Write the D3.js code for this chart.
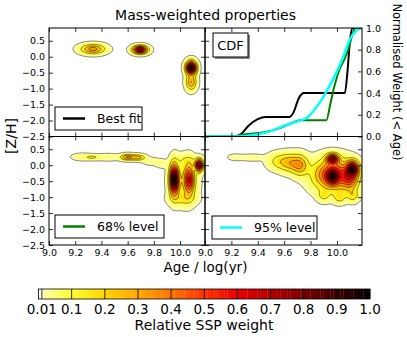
<!DOCTYPE html>
<html>
<head>
<meta charset="utf-8">
<script src="https://cdn.jsdelivr.net/npm/d3@7"></script>
<style>
  body { margin: 0; background: #fff; }
  svg text { font-family: "DejaVu Sans", sans-serif; fill: #000; }
</style>
</head>
<body>
<div id="chart"></div>
<script>
// tick values
const ageTicks = [9.0, 9.2, 9.4, 9.6, 9.8, 10.0]
const zTicks = [0.5, 0.0, -0.5, -1.0, -1.5, -2.0, -2.5]
const cdfTicks = [0.0, 0.2, 0.4, 0.6, 0.8, 1.0]
const levelTicks = [0.01, 0.1, 0.2, 0.3, 0.4, 0.5, 0.6, 0.7, 0.8, 0.9, 1.0]

// SSP weight components:
// log age, [Z/H], relative weight, spread in log age, spread in [Z/H]
const bestAge = [9.335, 9.695, 10.085, 10.085]
const bestZ   = [0.24, 0.22, -0.35, -0.8]
const bestW   = [0.35, 0.78, 1.0, 0.3]
const bestSA  = [0.057, 0.035, 0.025, 0.025]
const bestSZ  = [0.094, 0.078, 0.13, 0.15]

const lo68Age = [9.25, 9.33, 9.45, 9.60, 9.68, 9.78, 9.86, 9.955, 10.07, 10.145, 10.03, 10.02, 10.05]
const lo68Z   = [0.26, 0.25, 0.25, 0.25, 0.24, 0.12, 0.05, -0.45, -0.45, 0.0, -0.5, -1.05, 0.15]
const lo68W   = [0.05, 0.11, 0.05, 0.33, 0.25, 0.05, 0.05, 1.0, 0.55, 0.85, 0.15, 0.12, 0.08]
const lo68SA  = [0.05, 0.04, 0.06, 0.035, 0.035, 0.04, 0.03, 0.022, 0.025, 0.02, 0.06, 0.06, 0.05]
const lo68SZ  = [0.07, 0.05, 0.07, 0.06, 0.06, 0.07, 0.08, 0.30, 0.30, 0.12, 0.40, 0.12, 0.10]

const lo95Age = [9.23, 9.36, 9.55, 9.64, 9.72, 9.97, 9.967, 9.967, 10.12, 10.10, 9.90, 10.02, 10.12]
const lo95Z   = [0.25, 0.24, 0.12, 0.08, 0.0, -0.30, 0.20, -0.36, -0.10, -0.40, -0.95, -1.0, -0.95]
const lo95W   = [0.03, 0.04, 0.12, 0.25, 0.30, 0.60, 0.70, 0.45, 0.70, 0.40, 0.12, 0.15, 0.15]
const lo95SA  = [0.04, 0.06, 0.05, 0.05, 0.04, 0.09, 0.03, 0.03, 0.03, 0.04, 0.03, 0.03, 0.03]
const lo95SZ  = [0.07, 0.07, 0.16, 0.18, 0.20, 0.30, 0.10, 0.15, 0.15, 0.25, 0.12, 0.12, 0.12]

// cumulative mass fraction vs age
const bestCdfAge = [9.0, 9.22, 9.27, 9.33, 9.40, 9.46, 9.64, 9.67, 9.71, 9.75, 10.06, 10.08, 10.10, 10.12, 10.19]
const bestCdf    = [0, 0, 0.02, 0.10, 0.16, 0.18, 0.18, 0.22, 0.35, 0.40, 0.40, 0.60, 0.90, 1.0, 1.0]
const lo68CdfAge = [9.0, 9.2, 9.3, 9.45, 9.55, 9.65, 9.72, 9.92, 9.95, 9.98, 10.02, 10.06, 10.09, 10.12, 10.14, 10.19]
const lo68Cdf    = [0, 0, 0.02, 0.04, 0.07, 0.12, 0.15, 0.15, 0.30, 0.46, 0.62, 0.72, 0.82, 0.95, 1.0, 1.0]
const lo95CdfAge = [9.0, 9.25, 9.4, 9.5, 9.6, 9.7, 9.78, 9.85, 9.9, 9.95, 10.0, 10.05, 10.1, 10.15, 10.19]
const lo95Cdf    = [0, 0, 0.02, 0.05, 0.10, 0.14, 0.18, 0.28, 0.37, 0.48, 0.60, 0.74, 0.90, 0.98, 1.0]

const width = 407, height = 337
const box = {left: 49, mid: 205, right: 362, top: 28, split: 136.5, bottom: 245}

const svg = d3.select('#chart').append('svg')
    .attr('width', width)
    .attr('height', height)

const colour = d3.scaleLinear()
    .domain([0, 0.01, 0.1, 0.2, 0.3, 0.4, 0.5, 0.6, 0.7, 0.8, 0.9, 1.0])
    .range(['#ffffff', '#ffffb0', '#ffff30', '#ffd400', '#ffa800', '#ff7400', '#ff3400', '#e80000', '#b40000', '#780000', '#3c0000', '#000000'])

const fineLevels = d3.range(1, 100).map(i => i / 100)
const lineLevels = levelTicks.slice(0, -1)

// density grid
const gAge = [8.95, 10.25], gZ = [-2.6, 1.0]
const nx = 261, ny = 289
const da = (gAge[1] - gAge[0]) / (nx - 1)
const dz = (gZ[1] - gZ[0]) / (ny - 1)

function density(ages, zs, ws, sas, szs) {
	const values = new Array(nx * ny).fill(0)
	for (let j = 0; j < ny; j++) {
		const z = gZ[0] + j * dz
		for (let i = 0; i < nx; i++) {
			const a = gAge[0] + i * da
			let s = 0
			for (let k = 0; k < ages.length; k++) {
				const u = (a - ages[k]) / sas[k], v = (z - zs[k]) / szs[k]
				s += ws[k] * Math.exp(-0.5 * (u * u + v * v))
			}
			values[j * nx + i] = s
		}
	}
	const m = d3.max(values)
	return values.map(v => v / m)
}

let clipCount = 0
const panel = function(x0, x1, y0, y1) {
	const x = d3.scaleLinear().domain([9.0, 10.19]).range([x0, x1])
	const y = d3.scaleLinear().domain([-2.5, 0.9]).range([y1, y0])
	const id = 'clip' + (clipCount++)
	svg.append('clipPath').attr('id', id)
		.append('rect')
			.attr('x', x0).attr('y', y0)
			.attr('width', x1 - x0).attr('height', y1 - y0)
	const g = svg.append('g').attr('clip-path', `url(#${id})`)
	return {x, y, g, x0, x1, y0, y1}
}

const drawMap = function(p, ages, zs, ws, sas, szs) {
	const values = density(ages, zs, ws, sas, szs)
	const proj = d3.geoTransform({
		point: function(px, py) {
			this.stream.point(p.x(gAge[0] + (px - 0.5) * da), p.y(gZ[0] + (py - 0.5) * dz))
		}
	})
	const path = d3.geoPath(proj)
	p.g.append('g')
		.selectAll('path')
		.data(d3.contours().size([nx, ny]).thresholds(fineLevels)(values))
		.enter().append('path')
			.attr('d', path)
			.attr('fill', d => colour(d.value + 0.005))
	p.g.append('g')
		.selectAll('path')
		.data(d3.contours().size([nx, ny]).thresholds(lineLevels)(values))
		.enter().append('path')
			.attr('d', path)
			.attr('fill', 'none')
			.attr('stroke', '#000')
			.attr('stroke-width', 0.5)
}

const tickAxis = function(p, side, scale, values, labels) {
	const make = {left: d3.axisLeft, right: d3.axisRight, top: d3.axisTop, bottom: d3.axisBottom}[side]
	const pos = {left: `translate(${p.x0},0)`, right: `translate(${p.x1},0)`,
		top: `translate(0,${p.y0})`, bottom: `translate(0,${p.y1})`}[side]
	const axis = make(scale).tickValues(values).tickSizeInner(-4).tickSizeOuter(0).tickPadding(4)
		.tickFormat(labels ? d3.format('.1f') : '')
	const g = svg.append('g').attr('transform', pos).call(axis)
	g.select('.domain').remove()
	g.selectAll('line').attr('stroke', '#000').attr('stroke-width', 0.8)
	g.selectAll('text').attr('font-size', 9.5).attr('font-family', '"DejaVu Sans", sans-serif').attr('fill', '#000')
	return g
}

const frame = function(p) {
	svg.append('rect')
		.attr('x', p.x0).attr('y', p.y0)
		.attr('width', p.x1 - p.x0).attr('height', p.y1 - p.y0)
		.attr('fill', 'none').attr('stroke', '#000').attr('stroke-width', 1)
}

const legendBox = function(x, y, w, h, colourLine, label) {
	const g = svg.append('g')
	g.append('rect').attr('x', x).attr('y', y).attr('width', w).attr('height', h)
		.attr('fill', '#fff').attr('stroke', '#000').attr('stroke-width', 1)
	g.append('line').attr('x1', x + 8).attr('x2', x + 30).attr('y1', y + h / 2).attr('y2', y + h / 2)
		.attr('stroke', colourLine).attr('stroke-width', 2.5)
	g.append('text').attr('x', x + 42).attr('y', y + h / 2).attr('dy', '0.36em')
		.attr('font-size', 12.5).text(label)
}

// panels
const pBest = panel(box.left, box.mid, box.top, box.split)
const pCdf = panel(box.mid, box.right, box.top, box.split)
const p68 = panel(box.left, box.mid, box.split, box.bottom)
const p95 = panel(box.mid, box.right, box.split, box.bottom)

drawMap(pBest, bestAge, bestZ, bestW, bestSA, bestSZ)
drawMap(p68, lo68Age, lo68Z, lo68W, lo68SA, lo68SZ)
drawMap(p95, lo95Age, lo95Z, lo95W, lo95SA, lo95SZ)

// CDF panel
const cdfY = d3.scaleLinear().domain([0, 1]).range([pCdf.y1, pCdf.y0])
const cdfLine = d3.line().curve(d3.curveMonotoneX)
const cdfSeries = [
	{age: bestCdfAge, cdf: bestCdf, colour: '#000000', w: 2},
	{age: lo68CdfAge, cdf: lo68Cdf, colour: '#008000', w: 2},
	{age: lo95CdfAge, cdf: lo95Cdf, colour: '#00ffff', w: 2.5}
]
pCdf.g.selectAll('path.cdf')
	.data(cdfSeries)
	.enter().append('path')
		.attr('class', 'cdf')
		.attr('d', s => cdfLine(s.age.map((a, i) => [pCdf.x(a), cdfY(s.cdf[i])])))
		.attr('fill', 'none')
		.attr('stroke', s => s.colour)
		.attr('stroke-width', s => s.w)

// frames and ticks
;[pBest, pCdf, p68, p95].forEach(frame)

tickAxis(pBest, 'left', pBest.y, zTicks, true)
tickAxis(pBest, 'right', pBest.y, zTicks, false)
tickAxis(pBest, 'top', pBest.x, ageTicks, false)
tickAxis(pBest, 'bottom', pBest.x, ageTicks, false)

tickAxis(pCdf, 'left', pCdf.y, zTicks, false)
tickAxis(pCdf, 'right', cdfY, cdfTicks, true)
tickAxis(pCdf, 'top', pCdf.x, ageTicks, false)
tickAxis(pCdf, 'bottom', pCdf.x, ageTicks, false)

tickAxis(p68, 'left', p68.y, zTicks, true)
tickAxis(p68, 'right', p68.y, zTicks, false)
tickAxis(p68, 'top', p68.x, ageTicks, false)
tickAxis(p68, 'bottom', p68.x, ageTicks, true)

tickAxis(p95, 'left', p95.y, zTicks, false)
tickAxis(p95, 'right', p95.y, zTicks, false)
tickAxis(p95, 'top', p95.x, ageTicks, false)
tickAxis(p95, 'bottom', p95.x, ageTicks, true)

// legends
legendBox(55, 107, 87, 23, '#000000', 'Best fit')
legendBox(55, 215, 109, 23, '#008000', '68% level')
legendBox(212, 216, 105, 23, '#00ffff', '95% level')

const cdfLabel = svg.append('g')
cdfLabel.append('rect').attr('x', 215).attr('y', 35).attr('width', 35).attr('height', 24).attr('fill', '#888')
cdfLabel.append('rect').attr('x', 213).attr('y', 33).attr('width', 35).attr('height', 24)
	.attr('fill', '#fff').attr('stroke', '#000').attr('stroke-width', 1)
cdfLabel.append('text').attr('x', 230.5).attr('y', 45).attr('dy', '0.36em')
	.attr('text-anchor', 'middle').attr('font-size', 13).text('CDF')

// titles
svg.append('text').attr('x', 205.5).attr('y', 20).attr('text-anchor', 'middle')
	.attr('font-size', 14).text('Mass-weighted properties')
svg.append('text').attr('transform', 'translate(16,136) rotate(-90)').attr('text-anchor', 'middle')
	.attr('font-size', 14).text('[Z/H]')
svg.append('text').attr('transform', 'translate(393,82) rotate(90)').attr('text-anchor', 'middle')
	.attr('font-size', 11.5).text('Normalised Weight (< Age)')
svg.append('text').attr('x', 205.5).attr('y', 272).attr('text-anchor', 'middle')
	.attr('font-size', 13.5).text('Age / log(yr)')

// colour bar
const cb = d3.scaleLinear().domain([0, 1]).range([38.5, 370])
const cbTop = 289, cbH = 10
const cbBands = [0].concat(fineLevels)
svg.append('g')
	.selectAll('rect')
	.data(cbBands)
	.enter().append('rect')
		.attr('x', d => cb(d))
		.attr('y', cbTop)
		.attr('width', cb(0.01) - cb(0) + 0.3)
		.attr('height', cbH)
		.attr('fill', d => d === 0 ? '#ffffff' : colour(d + 0.005))
svg.append('g')
	.selectAll('line')
	.data(lineLevels)
	.enter().append('line')
		.attr('x1', d => cb(d)).attr('x2', d => cb(d))
		.attr('y1', cbTop).attr('y2', cbTop + cbH)
		.attr('stroke', '#000').attr('stroke-width', 0.8)
svg.append('rect').attr('x', cb(0)).attr('y', cbTop).attr('width', cb(1) - cb(0)).attr('height', cbH)
	.attr('fill', 'none').attr('stroke', '#000').attr('stroke-width', 0.8)
svg.append('g')
	.selectAll('text')
	.data(levelTicks)
	.enter().append('text')
		.attr('x', d => cb(d))
		.attr('y', 314)
		.attr('text-anchor', 'middle')
		.attr('font-size', 13.5)
		.text(d => d === 0.01 ? '0.01' : d3.format('.1f')(d))
svg.append('text').attr('x', 204).attr('y', 330).attr('text-anchor', 'middle')
	.attr('font-size', 14).text('Relative SSP weight')
</script>
</body>
</html>
